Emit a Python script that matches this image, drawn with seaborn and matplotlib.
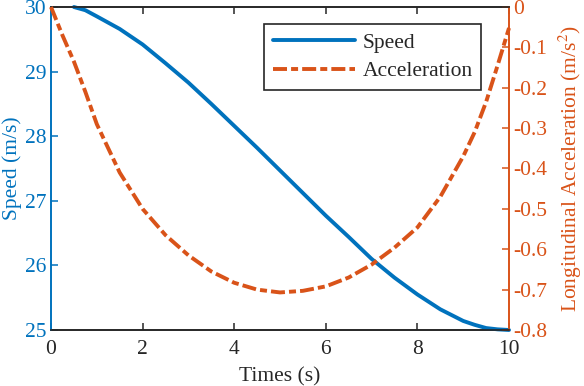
#!/usr/bin/env python3
"""Speed and longitudinal acceleration over time, MATLAB-style twin axes."""

import matplotlib
matplotlib.use("Agg")
import matplotlib.pyplot as plt
from matplotlib.lines import Line2D
from matplotlib.ticker import FuncFormatter
import numpy as np
import pandas as pd
import seaborn as sns

# values
time_s = [0, 0.25, 0.5, 0.75, 1, 1.5, 2, 2.5, 3, 3.5, 4, 4.5, 5, 5.5, 6, 6.5, 7, 7.5,
          8, 8.5, 9, 9.25, 9.5, 9.75, 10]
# speed curve only shows from t = 0.5 on
speed = [np.nan, np.nan, 30.0, 29.95, 29.855, 29.66, 29.42, 29.13, 28.83, 28.5, 28.16,
         27.82, 27.47, 27.12, 26.77, 26.44, 26.1, 25.81, 25.55, 25.32, 25.14, 25.08,
         25.03, 25.01, 25.0]
accel = [0.0, -0.07, -0.135, -0.21, -0.29, -0.41, -0.50, -0.565, -0.615, -0.655, -0.683,
         -0.70, -0.707, -0.703, -0.692, -0.67, -0.638, -0.596, -0.546, -0.47, -0.37,
         -0.31, -0.235, -0.145, -0.052]
x_ticks = [0, 2, 4, 6, 8, 10]
speed_ticks = [25, 26, 27, 28, 29, 30]
accel_ticks = [0, -0.1, -0.2, -0.3, -0.4, -0.5, -0.6, -0.7, -0.8]

BLUE = "#0072BD"
ORANGE = "#D95319"
DARK = "#262626"

sns.set_theme(style="white")
plt.rcParams["font.family"] = ["Liberation Serif", "DejaVu Serif"]
plt.rcParams["axes.unicode_minus"] = False
plt.rcParams["mathtext.fontset"] = "stix"
FS = 15.5

df = pd.DataFrame({"time": time_s, "speed": speed, "accel": accel})

fig = plt.figure(figsize=(5.84, 3.86), dpi=100)
ax = fig.add_axes([0.0873, 0.1451, 0.7843, 0.8368])
ax2 = ax.twinx()

LW = 2.8
dash = (3.6, 1.05, 1.8, 1.05)
sns.lineplot(data=df.dropna(subset=["speed"]), x="time", y="speed", ax=ax,
             color=BLUE, linewidth=LW)
sns.lineplot(data=df, x="time", y="accel", ax=ax2, color=ORANGE, linewidth=LW)
ax2.lines[0].set_dashes(dash)
for ln in ax.lines + ax2.lines:
    ln.set_clip_on(False)
    ln.set_zorder(5)

ax.set_xlim(0, 10)
ax.set_ylim(25, 30)
ax2.set_ylim(-0.8, 0)
ax.set_xticks(x_ticks)
ax.set_yticks(speed_ticks)
ax2.set_yticks(accel_ticks)
ax2.yaxis.set_major_formatter(FuncFormatter(lambda v, p: "0" if abs(v) < 1e-9 else f"{v:.1f}"))

ax.set_xlabel("Times (s)", fontsize=FS, color=DARK, labelpad=6)
ax.set_ylabel("Speed (m/s)", fontsize=FS, color=BLUE, labelpad=2)
ax2.set_ylabel("Longitudinal Acceleration (m/s$^2$)", fontsize=FS, color=ORANGE, labelpad=7)

for a in (ax, ax2):
    for s in a.spines.values():
        s.set_linewidth(1.2)
    a.spines["top"].set_color(DARK)
    a.spines["bottom"].set_color(DARK)
    a.spines["left"].set_color(BLUE)
    a.spines["right"].set_color(ORANGE)

ax.tick_params(axis="x", direction="in", length=5, width=1.1, colors=DARK,
               labelsize=FS, top=True, bottom=True, pad=7)
ax.tick_params(axis="y", direction="in", length=5, width=1.1, colors=BLUE,
               labelsize=FS, left=True, right=False, pad=3)
ax2.tick_params(axis="y", direction="in", length=5, width=1.1, colors=ORANGE,
                labelsize=FS, right=True, left=False, pad=3)

handles = [
    Line2D([0], [0], color=BLUE, linewidth=LW),
    Line2D([0], [0], color=ORANGE, linewidth=LW, dashes=dash),
]
leg = ax2.legend(handles, ["Speed", "Acceleration"], loc="upper right",
                 bbox_to_anchor=(0.939, 0.947), borderaxespad=0, fontsize=FS,
                 handlelength=3.8, handletextpad=0.35, borderpad=0.4,
                 labelspacing=0.4, fancybox=False, framealpha=1)
leg.get_frame().set_edgecolor(DARK)
leg.get_frame().set_linewidth(1.2)
leg.set_zorder(10)

fig.savefig("out.png", dpi=100)
